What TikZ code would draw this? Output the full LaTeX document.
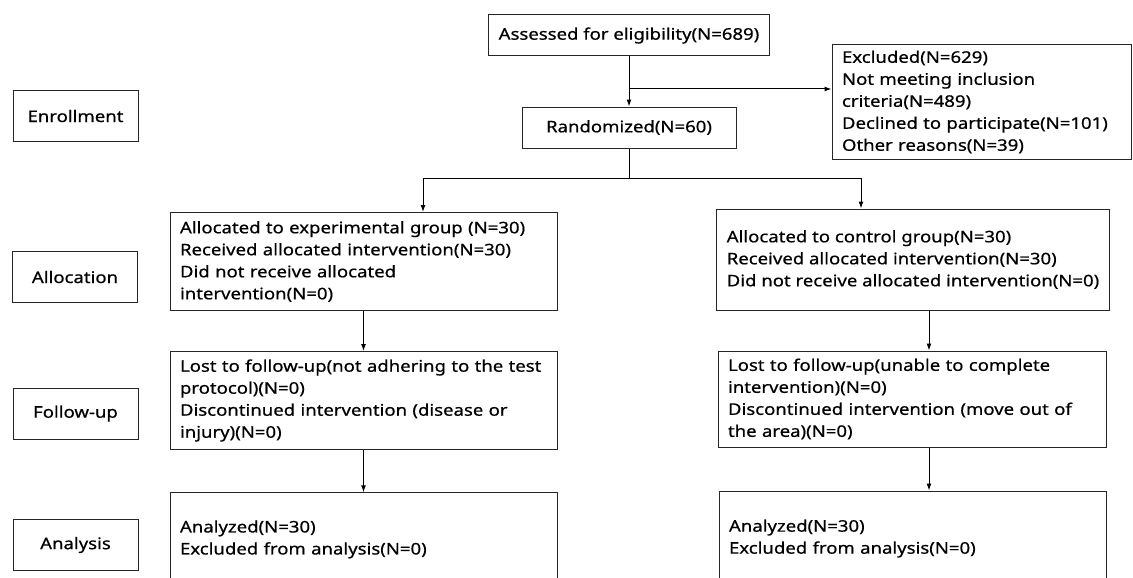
\documentclass[tikz,border=0pt]{standalone}
\usepackage{fontspec}
\setmainfont{Noto Sans}[FakeStretch=1.16, FakeBold=0.6]
\usetikzlibrary{positioning,arrows.meta}

\begin{document}
\begin{tikzpicture}[x=1pt,y=-1pt]
	\tikzset{box style/.style={draw=black!85, line width=1pt, inner xsep=10pt, inner ysep=0pt, align=left, font=\fontsize{16}{22}\selectfont},
		stage style/.style={box style, align=center, minimum width=125pt, minimum height=51pt},
		group style/.style={box style, text width=367pt, minimum height=98pt},
		arrow style/.style={line width=1pt, -{Latex[length=7pt,width=5pt]}}}
	\useasboundingbox (0,0) rectangle (1133,578);
	\clip (0,0) rectangle (1133,578);
	% stage labels
	\node[stage style] (enrollment) at (75.5,116) {Enrollment};
	\node[stage style] (allocation) at (75,277) {Allocation};
	\node[stage style] (followup) at (75.5,413.5) {Follow-up};
	\node[stage style] (analysis) at (75.5,545) {Analysis};
	% enrollment
	\node[box style, align=center, minimum width=279pt, minimum height=41pt] (assessed) at (629,35.5) {Assessed for eligibility(N=689)};
	\node[box style, align=center, minimum width=214pt, minimum height=41pt] (randomized) at (629,127.5) {Randomized(N=60)};
	\node[box style, text width=279pt, minimum height=114pt] (excluded) at (981.5,102) {Excluded(N=629)\\Not meeting inclusion\\criteria(N=489)\\Declined to participate(N=101)\\Other reasons(N=39)};
	% experimental group
	\node[group style] (expalloc) at (363.5,261.5) {Allocated to experimental group (N=30)\\Received allocated intervention(N=30)\\Did not receive allocated\\intervention(N=0)};
	\node[group style] (expfollow) at (363.5,400.5) {Lost to follow-up(not adhering to the test\\protocol)(N=0)\\Discontinued intervention (disease or\\injury)(N=0)};
	\node[group style, minimum height=93pt] (expanalysis) at (363.5,539.3) {Analyzed(N=30)\\Excluded from analysis(N=0)};
	% control group
	\node[box style, minimum width=392pt, minimum height=101pt] (ctlalloc) at (913,259.5) {Allocated to control group(N=30)\\Received allocated intervention(N=30)\\Did not receive allocated intervention(N=0)};
	\node[group style, text width=368pt, minimum height=96pt] (ctlfollow) at (912,399) {Lost to follow-up(unable to complete\\intervention)(N=0)\\Discontinued intervention (move out of\\the area)(N=0)};
	\node[group style, text width=367pt, minimum height=95pt] (ctlanalysis) at (912.5,538.5) {Analyzed(N=30)\\Excluded from analysis(N=0)};
	% connectors
	\coordinate (branch) at (629,89);
	\coordinate (split) at (629,178);
	\coordinate (splitL) at (423,178);
	\coordinate (splitR) at (861,178);
	\coordinate (ctlline) at (929,0);
	\draw[arrow style] (assessed) -- (randomized);
	\draw[arrow style] (branch) -- (branch -| excluded.west);
	\draw[line width=1pt] (randomized) -- (split);
	\draw[line width=1pt] (splitL) -- (splitR);
	\draw[arrow style] (splitL) -- (splitL |- expalloc.north);
	\draw[arrow style] (splitR) -- (splitR |- ctlalloc.north);
	\draw[arrow style] (expalloc) -- (expfollow);
	\draw[arrow style] (expfollow) -- (expanalysis);
	\draw[arrow style] (ctlalloc.south -| ctlline) -- (ctlfollow.north -| ctlline);
	\draw[arrow style] (ctlfollow.south -| ctlline) -- (ctlanalysis.north -| ctlline);
\end{tikzpicture}
\end{document}
